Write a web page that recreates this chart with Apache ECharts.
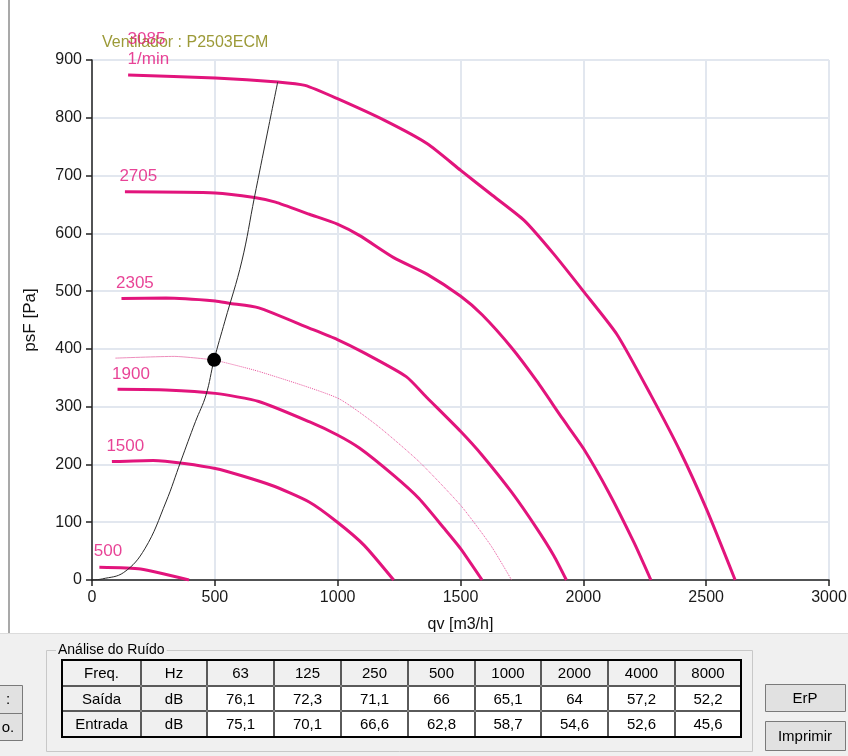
<!DOCTYPE html>
<html>
<head>
<meta charset="utf-8">
<script src="https://cdn.jsdelivr.net/npm/echarts@6/dist/echarts.min.js"></script>
<style>
  html, body { margin: 0; padding: 0; background: #fff; }
  #chart { width: 848px; height: 756px; }
</style>
</head>
<body>
<div id="chart"></div>
<script>
// curvas de rotação: [qv m3/h, psF Pa]
const rot3085 = [[147,874],[502,869],[756,862],[867,856],[999,833],[1193,795],[1365,755],[1501,709],[1623,668],[1760,622],[1880,564],[2000,500],[2137,425],[2275,320],[2395,222],[2501,123],[2618,0]];
const rot2705 = [[134,672],[502,670],[661,662],[747,654],[885,633],[999,616],[1090,596],[1228,558],[1365,529],[1501,491],[1588,459],[1708,402],[1811,344],[1914,280],[2000,228],[2103,152],[2206,65],[2275,0]];
const rot2305 = [[120,487],[301,488],[502,483],[558,479],[679,471],[884,436],[999,416],[1108,393],[1279,352],[1365,315],[1501,257],[1588,216],[1708,152],[1811,89],[1880,42],[1931,0]];
const rot1900 = [[104,330],[301,329],[502,323],[679,309],[884,274],[999,251],[1090,228],[1228,181],[1331,141],[1434,89],[1501,54],[1588,0]];
const rot1500 = [[81,205],[249,207],[502,193],[730,164],[884,135],[999,100],[1108,60],[1228,0]];
const rot500 = [[30,22],[198,19],[395,0]];
const rotNomes = ['3085\n1/min', '2705', '2305', '1900', '1500', '500'];

// curva no ponto de operação (parte antes e depois do ponto)
const opAntes = [[95,384],[335,387],[497,381]];
const opDepois = [[497,381],[679,361],[999,315],[1159,268],[1331,205],[1501,129],[1623,60],[1708,0]];
// curva do sistema
const sistema = [[0,0],[43,2],[129,13],[215,54],[301,135],[361,205],[421,274],[464,320],[497,381],[541,448],[610,552],[661,662],[713,772],[756,862]];
const pontoOp = [[497,381]];

// análise do ruído
const freqs = [63, 125, 250, 500, 1000, 2000, 4000, 8000];
const saida = [76.1, 72.3, 71.1, 66, 65.1, 64, 57.2, 52.2];
const entrada = [75.1, 70.1, 66.6, 62.8, 58.7, 54.6, 52.6, 45.6];

const MAG = '#e2147c';
const fonte = '"Liberation Sans", Arial, sans-serif';
const fonteTab = '"Liberation Sans Narrow", "Liberation Sans", Arial, sans-serif';

const curvas = [rot3085, rot2705, rot2305, rot1900, rot1500, rot500];

function serieRot(d) {
  return {
    type: 'line', data: d, symbol: 'none', smooth: 0.2,
    lineStyle: { color: MAG, width: 3 }, z: 3, silent: true
  };
}

// rótulos no início de cada curva
const rotulos = curvas.map((c, i) => ({
  value: c[0],
  label: { show: true, formatter: rotNomes[i], position: [i === 0 ? 0 : -5, -5] }
}));

// ---- tabela do ruído (graphic) ----
const colX = [62, 141, 207, 274, 341, 408, 475, 541, 608, 675, 741];
const rowY = [660, 686, 711, 737];
const fmt = v => String(v).replace('.', ',');
const linhas = [
  ['Freq.', 'Hz'].concat(freqs.map(String)),
  ['Saída', 'dB'].concat(saida.map(fmt)),
  ['Entrada', 'dB'].concat(entrada.map(fmt))
];
const graf = [];
graf.push({ type: 'rect', shape: { x: 0, y: 633, width: 848, height: 123 }, style: { fill: '#f0f0f0' }, z: 0 });
graf.push({ type: 'line', shape: { x1: 9, y1: 0, x2: 9, y2: 633 }, style: { stroke: '#8c8c8c', lineWidth: 1.5 }, z: 1 });
graf.push({ type: 'line', shape: { x1: 0, y1: 633.5, x2: 848, y2: 633.5 }, style: { stroke: '#dcdcdc', lineWidth: 1 }, z: 1 });
// groupbox
graf.push({ type: 'rect', shape: { x: 46.5, y: 650.5, width: 706, height: 101 }, style: { fill: 'none', stroke: '#c8c8c8', lineWidth: 1 }, z: 1 });
graf.push({ type: 'text', x: 56, y: 650, style: { text: 'Análise do Ruído', font: '14px ' + fonteTab, fill: '#000', backgroundColor: '#f0f0f0', padding: [0, 2], verticalAlign: 'middle' }, z: 2 });
for (let r = 0; r < 3; r++) {
  for (let c = 0; c < 10; c++) {
    const x0 = colX[c], x1 = colX[c + 1], y0 = rowY[r], y1 = rowY[r + 1];
    graf.push({ type: 'rect', shape: { x: x0 + 0.5, y: y0 + 0.5, width: x1 - x0 - 1, height: y1 - y0 - 1 },
      style: { fill: (r === 0 || c < 2) ? '#f0f0f0' : '#ffffff', stroke: '#5a5a5a', lineWidth: 1 }, z: 2 });
    graf.push({ type: 'text', x: (x0 + x1) / 2, y: (y0 + y1) / 2 + 1,
      style: { text: linhas[r][c], font: '15px ' + fonteTab, fill: '#000', align: 'center', verticalAlign: 'middle' }, z: 3 });
  }
}
graf.push({ type: 'rect', shape: { x: colX[0], y: rowY[0], width: colX[10] - colX[0], height: rowY[3] - rowY[0] }, style: { fill: 'none', stroke: '#000', lineWidth: 2 }, z: 4 });
// botões
function botao(x, y, w, h, txt) {
  graf.push({ type: 'rect', shape: { x: x + 0.5, y: y + 0.5, width: w, height: h }, style: { fill: '#e1e1e1', stroke: '#7a7a7a', lineWidth: 1 }, z: 2 });
  graf.push({ type: 'text', x: x + w / 2, y: y + h / 2 + 1, style: { text: txt, font: '15px ' + fonteTab, fill: '#000', align: 'center', verticalAlign: 'middle' }, z: 3 });
}
botao(765, 684, 80, 27, 'ErP');
botao(765, 721, 80, 29, 'Imprimir');
botao(-6, 685, 28, 28, ':');
botao(-6, 713, 28, 27, 'o.');

const chart = echarts.init(document.getElementById('chart'));
chart.setOption({
  backgroundColor: '#ffffff',
  animation: false,
  title: {
    text: 'Ventilador : P2503ECM', left: 97, top: 30, z: 1,
    textStyle: { color: '#9c9a38', fontSize: 16, fontWeight: 'normal', fontFamily: fonte }
  },
  grid: { left: 92, right: 19, top: 60, bottom: 176, containLabel: false, outerBoundsMode: 'none' },
  xAxis: {
    type: 'value', min: 0, max: 3000, interval: 500,
    name: 'qv [m3/h]', nameLocation: 'middle', nameGap: 37,
    nameTextStyle: { color: '#111', fontSize: 16, fontFamily: fonte },
    axisLine: { show: true, onZero: false, lineStyle: { color: '#222', width: 1.5 } },
    axisTick: { show: true, inside: false, length: 6, lineStyle: { color: '#222', width: 1.5 } },
    axisLabel: { color: '#1a1a1a', fontSize: 16, fontFamily: fonte, margin: 10, formatter: v => String(v) },
    splitLine: { show: true, lineStyle: { color: '#e2e7ef', width: 2 } }
  },
  yAxis: {
    type: 'value', min: 0, max: 900, interval: 100,
    name: 'psF [Pa]', nameLocation: 'middle', nameGap: 53, nameRotate: 90,
    nameTextStyle: { color: '#111', fontSize: 17, fontFamily: fonte },
    axisLine: { show: true, onZero: false, lineStyle: { color: '#222', width: 1.5 } },
    axisTick: { show: true, inside: false, length: 6, lineStyle: { color: '#222', width: 1.5 } },
    axisLabel: { color: '#1a1a1a', fontSize: 16, fontFamily: fonte, margin: 10, formatter: v => String(v) },
    splitLine: { show: true, lineStyle: { color: '#e2e7ef', width: 2 } }
  },
  graphic: graf,
  series: [
    ...curvas.map(serieRot),
    { type: 'line', data: opAntes, symbol: 'none', smooth: 0.2, lineStyle: { color: '#ee8fbd', width: 1 }, z: 3 },
    { type: 'line', data: opDepois, symbol: 'none', smooth: 0.2, lineStyle: { color: '#e8559c', width: 1, type: [1, 1] }, z: 3 },
    { type: 'line', data: sistema, symbol: 'none', smooth: 0.4, lineStyle: { color: '#2a2a2a', width: 1 }, z: 4 },
    { type: 'scatter', data: pontoOp, symbolSize: 14, itemStyle: { color: '#000', opacity: 1 }, z: 5 },
    {
      type: 'scatter', data: rotulos, symbolSize: 1, itemStyle: { color: 'rgba(0,0,0,0)' }, z: 6,
      label: { color: MAG, fontSize: 17, fontFamily: fonte, align: 'left', verticalAlign: 'bottom', lineHeight: 20 }
    }
  ]
});
</script>
</body>
</html>
